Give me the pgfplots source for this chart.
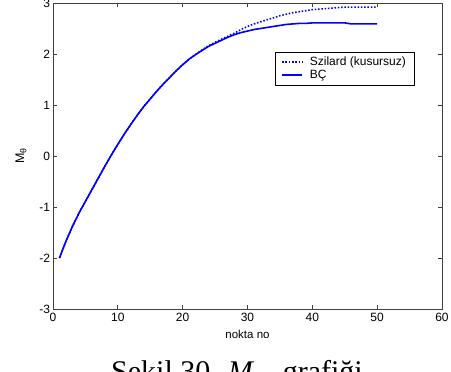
\documentclass[border=0pt]{standalone}
\usepackage{pgfplots}
\pgfplotsset{compat=1.18}
\usepackage{fontspec}
\setmainfont{Liberation Sans}
\newfontfamily\capfont{Liberation Serif}
\pgfplotstableread{
x y
1 -2.00
2 -1.67
3 -1.38
4 -1.12
5 -0.89
6 -0.66
7 -0.43
8 -0.20
9 0.02
10 0.23
11 0.43
12 0.62
13 0.80
14 0.97
15 1.12
16 1.27
17 1.41
18 1.54
19 1.67
20 1.79
21 1.90
22 1.99
23 2.08
24 2.16
25 2.23
26 2.29
27 2.35
28 2.41
29 2.48
30 2.54
31 2.59
32 2.63
33 2.67
34 2.71
35 2.75
36 2.78
37 2.81
38 2.83
39 2.85
40 2.87
41 2.88
42 2.89
43 2.90
44 2.91
45 2.92
46 2.92
47 2.92
48 2.92
49 2.92
50 2.92
}\szilard
\pgfplotstableread{
x y
1 -2.00
2 -1.67
3 -1.38
4 -1.12
5 -0.89
6 -0.66
7 -0.43
8 -0.20
9 0.02
10 0.23
11 0.43
12 0.62
13 0.80
14 0.97
15 1.12
16 1.27
17 1.41
18 1.54
19 1.67
20 1.79
21 1.90
22 1.99
23 2.07
24 2.15
25 2.21
26 2.27
27 2.33
28 2.38
29 2.42
30 2.45
31 2.48
32 2.50
33 2.52
34 2.54
35 2.56
36 2.58
37 2.59
38 2.60
39 2.60
40 2.61
41 2.61
42 2.61
43 2.61
44 2.61
45 2.61
46 2.59
47 2.59
48 2.59
49 2.59
50 2.59
}\bc
\definecolor{mblue}{RGB}{0,0,255}
\begin{document}
\begin{tikzpicture}
\useasboundingbox (0,0) rectangle (451bp,372bp);
\clip (0,0) rectangle (451bp,372bp);
\begin{axis}[
  at={(53bp,63bp)}, anchor=south west,
  width=389bp, height=306bp, scale only axis,
  xmin=0, xmax=60, ymin=-3, ymax=3,
  xtick={0,10,...,60}, ytick={-3,-2,...,3},
  tick align=inside, tick pos=both,
  major tick length=4bp,
  axis line style={black!75, line width=0.7bp},
  every tick/.style={black!75, line width=0.7bp},
  /pgf/number format/assume math mode=true,
  tick label style={font=\fontsize{12bp}{14bp}\selectfont},
  xticklabel style={yshift=-1bp},
  yticklabel style={xshift=0.5bp},
  xlabel={nokta no},
  xlabel style={at={(axis description cs:0.5,-0.098)}, anchor=base, font=\fontsize{11.5bp}{13bp}\selectfont},
  ylabel={M\textsubscript{θ}},
  ylabel style={at={(axis description cs:-0.0823,0.5)}, anchor=center, font=\fontsize{12.5bp}{14bp}\selectfont},
  legend style={at={(rel axis cs:0.571,0.84)}, anchor=north west,
    font=\fontsize{12bp}{14bp}\selectfont,
    inner xsep=6bp, inner ysep=3bp, row sep=-1bp},
  legend cell align=left,
  legend image code/.code={\draw[mblue, line width=1.6bp, #1] (0bp,0bp) -- (20bp,0bp); \path (25bp,0bp);},
]
\addplot[mblue, line width=1.6bp, dash pattern=on 1.5bp off 1.8bp] table {\szilard};
\addplot[mblue, line width=1.6bp, solid] table {\bc};
\legend{Szilard (kusursuz), BÇ}
\end{axis}
\node[anchor=base west, inner sep=0pt, font=\capfont\fontsize{30bp}{36bp}\selectfont] at (111bp,-9bp) {Şekil 30. \textit{M}\textsubscript{θ}\hspace{0.6em}grafiği};
\end{tikzpicture}
\end{document}
